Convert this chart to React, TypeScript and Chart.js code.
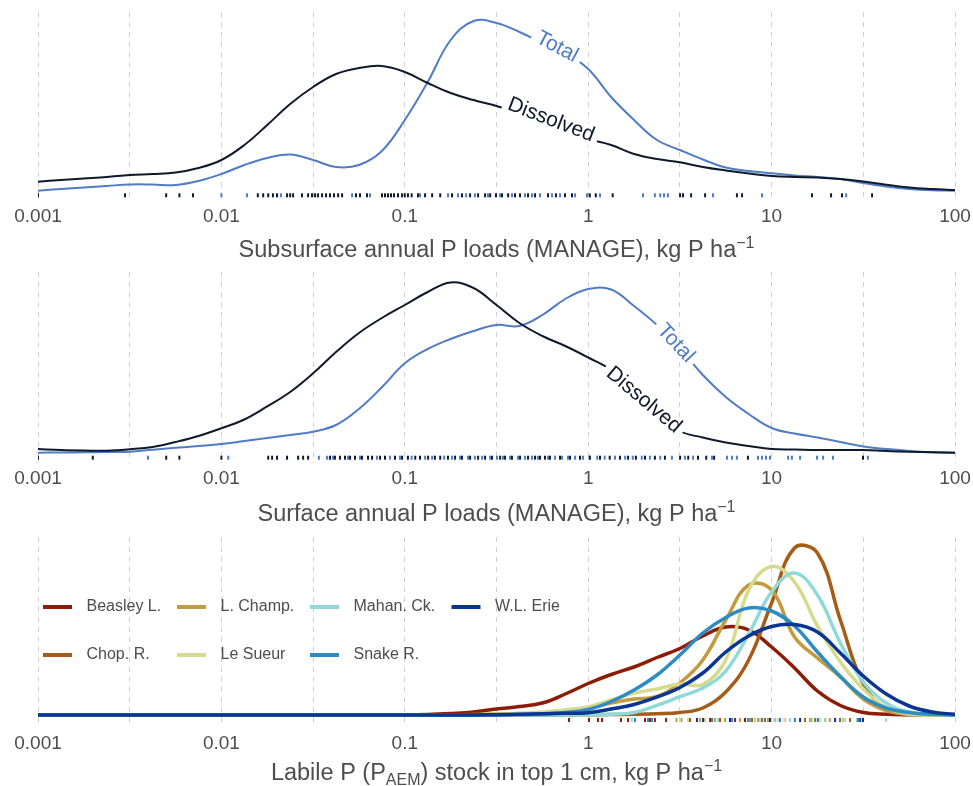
import React, { useEffect, useRef } from "react";
import { Chart, registerables } from "chart.js";

Chart.register(...registerables);

const FONT = '"Liberation Sans", Arial, Helvetica, sans-serif';
const TEXT_GREY = "#4d4d4d";
const DISSOLVED_COLOR = "#0e1a2b";
const TOTAL_COLOR = "#4f7cc4";

// ---------- x axis ----------
const xMin = 0.001;
const xMax = 100;
const axisTickValues = [0.001, 0.0031623, 0.01, 0.031623, 0.1, 0.31623, 1, 3.1623, 10, 31.623, 100];
const axisTickLabels = ["0.001", "", "0.01", "", "0.1", "", "1", "", "10", "", "100"];

// ---------- density sampling grid (log10 of kg P/ha) ----------
const gridExp = [
  -3, -2.875, -2.75, -2.625, -2.5, -2.375, -2.25, -2.125, -2, -1.875, -1.75, -1.625, -1.5, -1.375,
  -1.25, -1.125, -1, -0.875, -0.75, -0.625, -0.5, -0.375, -0.25, -0.125, 0, 0.125, 0.25, 0.375,
  0.5, 0.625, 0.75, 0.875, 1, 1.125, 1.25, 1.375, 1.5, 1.625, 1.75, 1.875, 2,
];

// Panel 1: subsurface loads (relative density)
const subsurfaceDissolved = [
  10.3, 12, 13.5, 15, 17, 18, 19.5, 24, 32, 47, 67, 88, 105, 118, 124, 126, 120, 109, 99, 92, 86,
  79, 70, 61, 53, 47, 38, 33, 29.7, 25, 21.5, 18.5, 16, 15, 14.5, 13, 10.5, 7.3, 4.5, 3, 2,
];
const subsurfaceTotal = [
  1.3, 3, 4.5, 6, 7.5, 7.5, 7, 11, 18, 27, 34, 37.5, 32, 25, 27, 41, 72, 110, 152, 171, 169, 160,
  149, 139, 123, 95, 72, 52, 42, 32.5, 24.5, 21, 18.7, 16.5, 15, 13, 9, 5.5, 3, 1.7, 1.3,
];

// Panel 2: surface loads (relative density)
const surfaceDissolved = [
  5, 4, 3.5, 3.3, 4.7, 7, 12, 18, 25.7, 34.5, 47.6, 62, 80.7, 102, 121, 136, 149, 162, 171.5, 166,
  149, 131, 118, 108, 96.5, 84, 63, 42, 23, 16.5, 11.5, 8, 5, 4.5, 4, 4, 4, 3, 2.3, 1.8, 1.3,
];
const surfaceTotal = [
  1.3, 1.5, 1.7, 2, 2.3, 4.3, 6.2, 8, 10, 13, 16, 19, 22.3, 29, 45, 66.7, 90.7, 105, 115, 123, 129,
  128, 139, 155, 165, 164.5, 148, 129, 106, 79, 57, 40, 26, 20.5, 16.5, 12, 7.5, 5, 3, 1.8, 1.3,
];

// Rug values, kg P/ha
const subsurfaceDissolvedRug = [
  0.001, 0.00298, 0.005, 0.0059, 0.007, 0.0158, 0.0169, 0.018, 0.0191, 0.0201, 0.0228, 0.0237,
  0.0246, 0.0275, 0.0297, 0.0312, 0.0324, 0.0336, 0.0354, 0.0372, 0.0391, 0.0411, 0.0433, 0.0455,
  0.0542, 0.057, 0.0622, 0.0751, 0.078, 0.081, 0.0841, 0.0873, 0.0918, 0.0966, 0.1, 0.104, 0.109,
  0.118, 0.129, 0.141, 0.156, 0.181, 0.205, 0.227, 0.251, 0.274, 0.292, 0.314, 0.339, 0.366, 0.399,
  0.425, 0.47, 0.513, 0.604, 0.667, 0.747, 0.816, 1.02, 1.1, 1.36, 3.17, 3.29, 3.64, 4.34, 6.47, 6.9,
  16.6, 21.1, 24.2, 35.3,
];
const subsurfaceTotalRug = [
  0.01, 0.0138, 0.0211, 0.0516, 0.0646, 0.121, 0.172, 0.195, 0.216, 0.241, 0.284, 0.331, 0.384,
  0.452, 0.494, 0.546, 0.635, 0.702, 0.848, 0.985, 1.16, 1.99, 2.31, 2.47, 2.59, 2.72, 4.79, 8.87, 25.5,
];
const surfaceDissolvedRug = [
  0.001, 0.00199, 0.005, 0.0059, 0.01, 0.018, 0.0189, 0.0201, 0.0228, 0.0262, 0.0279, 0.0297,
  0.0391, 0.0416, 0.0443, 0.0472, 0.0503, 0.0535, 0.0584, 0.063, 0.0663, 0.0733, 0.078, 0.0884,
  0.0966, 0.104, 0.114, 0.121, 0.134, 0.146, 0.156, 0.172, 0.188, 0.205, 0.227, 0.251, 0.274, 0.299,
  0.331, 0.352, 0.384, 0.425, 0.47, 0.513, 0.546, 0.581, 0.619, 0.702, 0.796, 0.902, 1.02, 1.16, 1.31,
  1.49, 1.65, 1.82, 2.04, 2.31, 2.62, 3.17, 3.51, 3.97, 4.4, 4.86, 7.43, 31.5,
];
const surfaceTotalRug = [
  0.00398, 0.0109, 0.034, 0.0377, 0.0406, 0.049, 0.057, 0.0705, 0.083, 0.0941, 0.109, 0.129, 0.141,
  0.164, 0.181, 0.2, 0.221, 0.241, 0.264, 0.292, 0.318, 0.343, 0.375, 0.414, 0.452, 0.494, 0.532,
  0.604, 0.659, 0.72, 0.776, 0.848, 0.937, 1.02, 1.12, 1.23, 1.4, 1.59, 1.75, 1.96, 2.17, 2.47, 2.86,
  3.37, 3.73, 4.73, 5.71, 6.08, 6.47, 8.43, 8.87, 9.32, 9.8, 12.3, 12.9, 14.3, 17.7, 19.1, 21.6, 33.5,
];

// ---------- Panel 3: labile P stock by site ----------
const labileGridExp = [
  -3, -1, -0.875, -0.75, -0.625, -0.5, -0.375, -0.25, -0.125, 0, 0.125, 0.25, 0.375, 0.5, 0.625,
  0.75, 0.875, 1, 1.125, 1.25, 1.375, 1.5, 1.625, 1.75, 1.875, 2,
];
const siteNames = ["Beasley L.", "Chop. R.", "L. Champ.", "Le Sueur", "Mahan. Ck.", "Snake R.", "W.L. Erie"];
const siteColors = ["#8c1d04", "#a65b16", "#c49a3e", "#d6da8c", "#8fdad9", "#2e8bc3", "#0b3593"];
const beasleyDensity = [0, 0.2, 0.5, 1.5, 3, 6, 8.5, 12, 21, 31.5, 40.5, 48, 57.5, 66.5, 79, 88, 85, 68, 47, 24, 9.5, 2.5, 0.7, 0.2, 0, 0];
const chopDensity = [0, 0, 0, 0, 0, 0, 0, 0, 0.1, 0.2, 0.4, 0.7, 1.3, 2.5, 7, 23, 55, 112, 167, 162, 95, 31, 6.3, 1, 0, 0];
const champDensity = [0, 0, 0, 0.2, 0.5, 1, 1.5, 2, 4, 6.7, 12, 16, 18.5, 32, 55, 95, 130, 125, 78, 57, 38, 16, 4.5, 0.7, 0, 0];
const sueurDensity = [0, 0, 0, 0, 0.2, 0.5, 1.5, 3, 5, 8, 15, 22, 26, 31, 30.5, 55, 125, 148.5, 133, 89, 53, 26, 7.5, 1, 0, 0];
const mahanDensity = [0, 0, 0, 0, 0, 0, 0, 0, 0, 0.2, 0.8, 2.5, 9.7, 18.3, 27, 44, 81, 123, 142, 120, 72, 33, 12, 3, 0.5, 0];
const snakeDensity = [0, 0, 0, 0, 0, 0.2, 0.5, 1, 2.5, 5.5, 13.5, 25, 40, 60, 82, 97.5, 107, 104, 89, 63, 38.5, 18, 7, 2.5, 0.7, 0];
const erieDensity = [0, 0, 0, 0, 0.1, 0.3, 0.7, 1.2, 1.7, 2.3, 6, 10.5, 18, 27.5, 42, 63, 79, 88.5, 90.5, 83, 62, 39, 21, 9, 3, 0.7];

const beasleyRug = [0.786, 1.01, 1.13, 1.19, 1.51, 1.65, 2.04, 2.17, 2.31, 2.66, 4.07, 4.62, 5.23, 6.32, 7.16, 8.65, 11.1];
const chopRug = [3.59, 4.34, 5.23, 6.73, 7.82, 9.21, 10.4, 11.8, 13.4, 15.2, 17.3, 19.6, 23.6, 26.8];
const champRug = [3.03, 3.23, 4.07, 4.91, 5.57, 6.73, 7.63, 8.43, 9.56, 12.6, 16.2, 20.8];
const sueurRug = [3.17, 3.5, 4.34, 5.93, 8.65, 9.8, 10.8, 11.8, 14.3, 18.4, 25.1];
const mahanRug = [1.73, 5.1, 8.12, 10.4, 12.6, 14.3, 16.6, 19.6, 24.5, 29.2, 42.1];
const snakeRug = [1.8, 2.12, 2.23, 4.73, 6.08, 7.44, 8.87, 11.1, 13.4, 17.9, 29.6];
const erieRug = [3.92, 4.23, 5.93, 9.8, 14.3, 22.2, 30.4, 31.5];

const siteDensities = [beasleyDensity, chopDensity, champDensity, sueurDensity, mahanDensity, snakeDensity, erieDensity];
const siteRugs = [beasleyRug, chopRug, champRug, sueurRug, mahanRug, snakeRug, erieRug];

// ---------- helpers ----------
type Seg = { t: string; k?: "sup" | "sub" };
type InlineLabel = { text: string; x: number; y: number; angle: number; color: string };

function curve(exps: number[], vals: number[]) {
  return exps.map((e, i) => ({ x: Math.pow(10, e), y: vals[i] }));
}
function rug(vals: number[], level: number) {
  return vals.map((v) => ({ x: v, y: level }));
}
function lineDs(label: string, exps: number[], vals: number[], color: string, width: number, order: number) {
  return {
    label,
    data: curve(exps, vals),
    borderColor: color,
    borderWidth: width,
    pointRadius: 0,
    fill: false,
    tension: 0.4,
    borderCapStyle: "round",
    borderJoinStyle: "round",
    order,
  };
}
function rugDs(label: string, vals: number[], level: number, color: string, order: number) {
  return {
    label,
    data: rug(vals, level),
    showLine: false,
    pointStyle: "line",
    rotation: 90,
    pointRadius: 2,
    pointBorderWidth: 2,
    pointBorderColor: color,
    borderColor: color,
    order,
  };
}

function drawRich(ctx: CanvasRenderingContext2D, segs: Seg[], cx: number, baseline: number, size: number) {
  const fontFor = (k?: string) => `${k ? size * 0.68 : size}px ${FONT}`;
  let total = 0;
  const widths = segs.map((s) => {
    ctx.font = fontFor(s.k);
    const w = ctx.measureText(s.t).width;
    total += w;
    return w;
  });
  let x = cx - total / 2;
  ctx.fillStyle = TEXT_GREY;
  ctx.textAlign = "left";
  ctx.textBaseline = "alphabetic";
  segs.forEach((s, i) => {
    ctx.font = fontFor(s.k);
    const dy = s.k === "sup" ? -size * 0.37 : s.k === "sub" ? size * 0.22 : 0;
    ctx.fillText(s.t, x, baseline + dy);
    x += widths[i];
  });
}

type PanelSpec = {
  key: string;
  top: number;
  height: number;
  padTop: number;
  axisH: number;
  tickLineHeight: number;
  yMin: number;
  yMax: number;
  datasets: any[];
  title: Seg[];
  titleBaseline: number;
  labels: InlineLabel[];
  legend: boolean;
};

const panels: PanelSpec[] = [
  {
    key: "p1",
    top: 0,
    height: 265,
    padTop: 12,
    axisH: 63,
    tickLineHeight: 1.41,
    yMin: -10,
    yMax: 180,
    datasets: [
      lineDs("Total", gridExp, subsurfaceTotal, TOTAL_COLOR, 2, 3),
      lineDs("Dissolved", gridExp, subsurfaceDissolved, DISSOLVED_COLOR, 2, 2),
      rugDs("Total rug", subsurfaceTotalRug, -3.3, TOTAL_COLOR, 1),
      rugDs("Dissolved rug", subsurfaceDissolvedRug, -3.3, DISSOLVED_COLOR, 0),
    ],
    title: [{ t: "Subsurface annual P loads (MANAGE), kg P ha" }, { t: "\u22121", k: "sup" }],
    titleBaseline: 257,
    labels: [
      { text: "Total", x: 0.676, y: 145, angle: 28, color: TOTAL_COLOR },
      { text: "Dissolved", x: 0.627, y: 72, angle: 21, color: DISSOLVED_COLOR },
    ],
    legend: false,
  },
  {
    key: "p2",
    top: 265,
    height: 265,
    padTop: 7,
    axisH: 67,
    tickLineHeight: 1.547,
    yMin: -9,
    yMax: 182,
    datasets: [
      lineDs("Total", gridExp, surfaceTotal, TOTAL_COLOR, 2, 3),
      lineDs("Dissolved", gridExp, surfaceDissolved, DISSOLVED_COLOR, 2, 2),
      rugDs("Total rug", surfaceTotalRug, -3.7, TOTAL_COLOR, 1),
      rugDs("Dissolved rug", surfaceDissolvedRug, -3.7, DISSOLVED_COLOR, 0),
    ],
    title: [{ t: "Surface annual P loads (MANAGE), kg P ha" }, { t: "\u22121", k: "sup" }],
    titleBaseline: 256,
    labels: [
      { text: "Total", x: 3.0, y: 110.7, angle: 47, color: TOTAL_COLOR },
      { text: "Dissolved", x: 2.01, y: 54, angle: 40, color: DISSOLVED_COLOR },
    ],
    legend: false,
  },
  {
    key: "p3",
    top: 530,
    height: 256,
    padTop: 7,
    axisH: 62,
    tickLineHeight: 1.937,
    yMin: -9,
    yMax: 178,
    datasets: [
      ...siteNames.map((n, i) => lineDs(n, labileGridExp, siteDensities[i], siteColors[i], 3.5, 100 - i)),
      ...siteNames.map((n, i) => rugDs(n + " rug", siteRugs[i], -5, siteColors[i], 200 - i)),
    ],
    title: [
      { t: "Labile P (P" },
      { t: "AEM", k: "sub" },
      { t: ") stock in top 1 cm, kg P ha" },
      { t: "\u22121", k: "sup" },
    ],
    titleBaseline: 250,
    labels: [],
    legend: true,
  },
];

function overlayPlugin(spec: PanelSpec) {
  return {
    id: "overlay_" + spec.key,
    afterDatasetsDraw(chart: any) {
      const ctx: CanvasRenderingContext2D = chart.ctx;
      const xs = chart.scales.x;
      const ys = chart.scales.y;
      spec.labels.forEach((l) => {
        const px = xs.getPixelForValue(l.x);
        const py = ys.getPixelForValue(l.y);
        ctx.save();
        ctx.translate(px, py);
        ctx.rotate((l.angle * Math.PI) / 180);
        ctx.font = `21px ${FONT}`;
        const w = ctx.measureText(l.text).width;
        ctx.fillStyle = "#ffffff";
        ctx.fillRect(-w / 2 - 5, -10, w + 10, 20);
        ctx.fillStyle = l.color;
        ctx.textAlign = "center";
        ctx.textBaseline = "middle";
        ctx.fillText(l.text, 0, 0);
        ctx.restore();
      });
    },
    afterDraw(chart: any) {
      const ctx: CanvasRenderingContext2D = chart.ctx;
      const area = chart.chartArea;
      ctx.save();
      drawRich(ctx, spec.title, (area.left + area.right) / 2, spec.titleBaseline, 23.5);
      if (spec.legend) {
        const colX = [43, 177, 310, 451.5];
        const rowY = [77, 125];
        siteNames.forEach((name, i) => {
          const c = Math.floor(i / 2);
          const r = i % 2;
          const x = colX[c];
          const y = rowY[r];
          ctx.strokeStyle = siteColors[i];
          ctx.lineWidth = 4;
          ctx.beginPath();
          ctx.moveTo(x, y);
          ctx.lineTo(x + 29, y);
          ctx.stroke();
          ctx.fillStyle = TEXT_GREY;
          ctx.font = `16px ${FONT}`;
          ctx.textAlign = "left";
          ctx.textBaseline = "middle";
          ctx.fillText(name, x + 43.5, y);
        });
      }
      ctx.restore();
    },
  };
}

function buildConfig(spec: PanelSpec): any {
  return {
    type: "line",
    data: { datasets: spec.datasets },
    options: {
      responsive: false,
      maintainAspectRatio: false,
      animation: false,
      events: [],
      layout: { padding: { left: 38, right: 18, top: spec.padTop, bottom: 0 } },
      plugins: { legend: { display: false }, tooltip: { enabled: false }, title: { display: false } },
      scales: {
        x: {
          type: "logarithmic",
          min: xMin,
          max: xMax,
          afterBuildTicks: (s: any) => {
            s.ticks = axisTickValues.map((v) => ({ value: v }));
          },
          afterFit: (s: any) => {
            s.height = spec.axisH;
          },
          ticks: {
            autoSkip: false,
            maxRotation: 0,
            minRotation: 0,
            padding: 1,
            color: TEXT_GREY,
            font: { family: FONT, size: 19, lineHeight: spec.tickLineHeight },
            callback: (_v: any, i: number) => axisTickLabels[i],
          },
          grid: { color: "#cfcfcf", lineWidth: 1, drawTicks: false },
          border: { display: false, dash: [5, 5] },
        },
        y: { display: false, min: spec.yMin, max: spec.yMax },
      },
    },
    plugins: [overlayPlugin(spec)],
  };
}

function Panel({ spec }: { spec: PanelSpec }) {
  const ref = useRef<HTMLCanvasElement>(null);
  useEffect(() => {
    const chart = new Chart(ref.current as HTMLCanvasElement, buildConfig(spec));
    return () => chart.destroy();
  }, [spec]);
  return (
    <canvas
      ref={ref}
      width={973}
      height={spec.height}
      style={{ position: "absolute", left: 0, top: spec.top, width: 973, height: spec.height }}
    />
  );
}

export default function App() {
  return (
    <div style={{ position: "absolute", left: 0, top: 0, width: 973, height: 786, background: "#ffffff" }}>
      {panels.map((p) => (
        <Panel key={p.key} spec={p} />
      ))}
    </div>
  );
}
